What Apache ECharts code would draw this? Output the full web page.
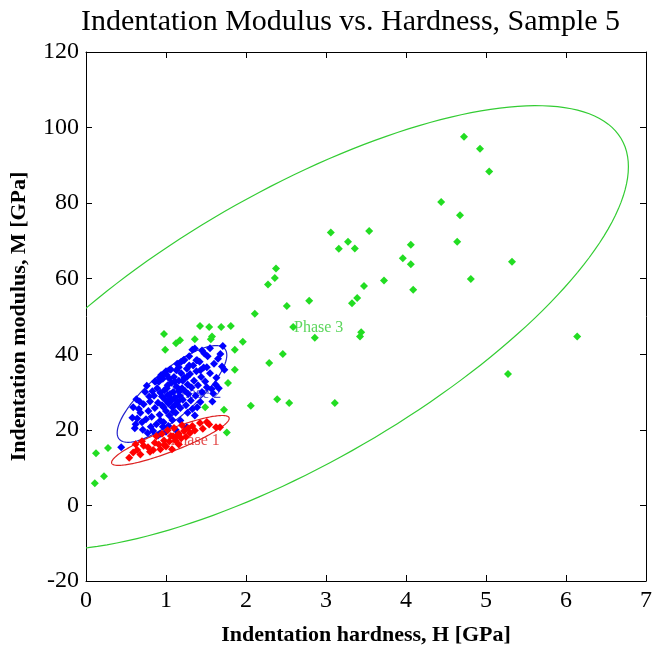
<!DOCTYPE html>
<html>
<head>
<meta charset="utf-8">
<script src="https://cdn.jsdelivr.net/npm/echarts@6/dist/echarts.min.js"></script>
<style>
  html, body { margin: 0; padding: 0; background: #ffffff; }
  #chart { width: 657px; height: 656px; }
</style>
</head>
<body>
<div id="chart"></div>
<script>
// tick values
var xTicks = [0, 1, 2, 3, 4, 5, 6, 7];
var yTicks = [-20, 0, 20, 40, 60, 80, 100, 120];

// phase 1 (red) points [H, M]
var phase1 = [
  [0.54, 12.6], [0.59, 14.0], [0.64, 14.7], [0.68, 13.5], [0.72, 15.8], [0.775, 15.4],
  [0.80, 14.2], [0.84, 14.7], [0.86, 16.6], [0.91, 16.1], [0.93, 14.9], [0.975, 17.2],
  [1.00, 15.6], [1.04, 16.9], [1.06, 18.4], [1.075, 14.9], [1.09, 18.3], [1.12, 17.1],
  [1.16, 19.0], [1.16, 16.1], [1.19, 17.8], [1.225, 19.7], [1.25, 18.2], [1.275, 20.4],
  [1.30, 19.2], [1.33, 21.0], [1.36, 19.8], [1.425, 21.8], [1.46, 20.3], [1.51, 22.1],
  [1.54, 21.4], [1.625, 20.7], [1.675, 20.7], [0.70, 17.0], [0.88, 18.3], [0.95, 19.0],
  [1.02, 19.9], [1.10, 20.5], [1.20, 21.2], [0.62, 16.2], [0.98, 16.0], [1.14, 18.6]
];

// phase 2 (blue) points [H, M]
var phase2 = [
  [0.44, 15.4], [0.58, 23.2], [0.61, 20.4], [0.71, 20.0], [0.84, 19.7], [0.93, 19.0],
  [0.59, 26.0], [0.63, 28.1], [0.76, 31.7], [0.91, 32.7], [1.16, 36.6], [1.39, 38.4],
  [1.51, 36.6], [1.36, 41.5], [1.33, 41.2], [1.71, 42.2], [1.68, 40.1], [1.73, 35.9],
  [1.63, 33.8], [1.51, 31.3], [1.59, 29.6], [1.43, 27.4], [1.26, 20.7], [1.18, 22.5],
  [0.93, 22.5], [1.38, 38.4], [1.55, 41.6],
  [0.68, 24.5], [0.72, 26.8], [0.75, 22.8], [0.78, 25.0], [0.80, 27.5], [0.82, 23.5],
  [0.85, 29.0], [0.86, 25.8], [0.88, 21.5], [0.89, 31.0], [0.90, 27.2], [0.92, 24.0],
  [0.93, 29.8], [0.95, 26.5], [0.96, 33.5], [0.97, 22.0], [0.98, 30.5], [0.99, 28.0],
  [1.00, 25.0], [1.01, 34.5], [1.02, 31.8], [1.03, 27.0], [1.04, 23.8], [1.05, 29.5],
  [1.06, 36.0], [1.07, 32.5], [1.08, 26.0], [1.09, 30.0], [1.10, 34.0], [1.11, 28.5],
  [1.12, 24.5], [1.13, 31.5], [1.14, 37.5], [1.15, 27.5], [1.16, 33.0], [1.17, 29.0],
  [1.18, 25.8], [1.19, 35.0], [1.20, 31.0], [1.21, 28.0], [1.22, 38.5], [1.23, 33.8],
  [1.24, 30.2], [1.25, 26.5], [1.26, 36.2], [1.27, 32.0], [1.28, 29.5], [1.30, 34.8],
  [1.31, 27.8], [1.32, 31.2], [1.34, 37.0], [1.35, 33.0], [1.37, 29.0], [1.38, 35.5],
  [1.40, 31.8], [1.42, 38.0], [1.44, 34.0], [1.45, 30.0], [1.47, 36.5], [1.49, 32.8],
  [1.52, 39.5], [1.55, 35.0], [1.57, 30.8], [1.60, 37.5], [1.62, 32.0], [1.65, 38.8],
  [0.83, 30.2], [0.87, 32.8], [0.94, 34.5], [1.00, 35.5], [1.05, 36.0], [0.79, 28.8],
  [0.74, 30.0], [0.70, 22.0], [0.66, 25.5], [0.64, 23.0], [0.62, 21.5], [0.67, 27.5],
  [0.81, 20.8], [0.77, 19.2], [0.96, 20.8], [1.03, 21.0], [1.08, 22.6], [1.12, 20.0],
  [1.00, 19.5], [0.90, 18.5], [0.98, 35.0], [1.02, 29.2], [1.07, 27.8], [1.13, 35.8],
  [1.19, 38.0], [1.23, 38.5], [1.29, 39.5], [1.18, 30.5], [1.14, 26.8], [1.09, 24.8],
  [1.27, 24.5], [1.33, 25.5], [1.39, 26.0], [1.36, 23.8], [0.95, 28.8], [1.04, 33.6],
  [0.86, 32.8], [0.92, 33.8], [1.48, 40.2], [1.45, 41.0], [1.58, 27.5], [1.66, 31.0],
  [1.70, 36.8], [1.01, 31.0], [1.06, 28.2], [1.11, 32.8], [1.16, 30.2], [1.21, 33.0],
  [1.26, 34.0], [1.11, 26.5], [0.97, 26.0], [1.29, 37.0], [1.43, 35.8]
];

// phase 3 (green) points [H, M]
var phase3 = [
  [4.44, 80.3], [4.675, 76.8], [4.64, 69.8], [5.325, 64.5], [4.81, 59.9], [3.06, 72.2],
  [3.54, 72.6], [3.275, 69.8], [3.16, 67.9], [3.36, 68.0], [4.06, 69.0], [3.96, 65.4],
  [4.06, 63.8], [4.09, 57.1], [3.725, 59.5], [3.475, 58.1], [3.39, 54.9], [3.325, 53.5],
  [2.375, 62.7], [2.36, 60.2], [2.275, 58.5], [2.79, 54.2], [2.51, 52.8], [2.11, 50.7],
  [2.59, 47.2], [2.86, 44.4], [3.44, 45.8], [3.425, 44.7], [1.96, 43.3], [1.86, 41.2],
  [2.46, 40.1], [2.29, 37.7], [1.86, 35.9], [1.775, 32.4], [2.39, 28.1], [2.54, 27.1],
  [3.11, 27.1], [2.06, 26.4], [1.725, 25.3], [5.275, 34.8], [1.425, 47.5], [1.54, 47.2],
  [1.69, 47.2], [1.81, 47.5], [1.575, 44.7], [1.56, 44.0], [4.725, 97.6], [4.925, 94.4],
  [5.04, 88.4], [6.14, 44.7], [0.975, 45.4], [1.125, 42.9], [1.175, 43.7], [1.36, 44.0],
  [0.99, 41.2], [1.49, 26.0], [1.76, 19.3], [0.125, 13.8], [0.275, 15.2], [0.225, 7.7],
  [0.11, 5.9]
];

// ellipse parameters: [centerH, centerM, halfWidthH, halfHeightM, phase]
var ellipse1 = [1.055, 17.2, 0.735, 6.6, 0.49];
var ellipse2 = [1.075, 29.5, 0.685, 12.8, 0.64];
var ellipse3 = [2.6, 47.0, 4.18, 58.8, 0.76];

// phase label anchors [H, M, text]
var phaseLabels = [
  [1.055, 17.2, 'Phase 1'],
  [1.075, 29.5, 'Phase 2'],
  [2.6, 47.0, 'Phase 3']
];

var red = '#ff0000';
var blue = '#0000ff';
var green = '#22dd22';
var serif = '"Liberation Serif", "Times New Roman", serif';

function ellipseSeries(params, color) {
  return {
    type: 'custom',
    clip: true,
    z: 1,
    silent: true,
    encode: { x: 0, y: 1 },
    data: [params],
    renderItem: function (p, api) {
      var cx = api.value(0), cy = api.value(1);
      var a = api.value(2), b = api.value(3), ph = api.value(4);
      var pts = [];
      for (var i = 0; i <= 180; i++) {
        var t = (i / 180) * Math.PI * 2;
        pts.push(api.coord([cx + a * Math.cos(t), cy + b * Math.cos(t - ph)]));
      }
      return {
        type: 'polyline',
        shape: { points: pts },
        style: { stroke: color, lineWidth: 1.2, fill: null }
      };
    }
  };
}

function labelSeries(item, color) {
  return {
    type: 'scatter',
    z: 1,
    silent: true,
    symbolSize: 0,
    data: [[item[0], item[1]]],
    label: {
      show: true,
      position: 'right',
      distance: 0,
      formatter: item[2],
      color: color,
      fontFamily: serif,
      fontSize: 16
    }
  };
}

function pointSeries(data, color) {
  return {
    type: 'scatter',
    z: 3,
    symbol: 'diamond',
    symbolSize: 8,
    itemStyle: { color: color, opacity: 1 },
    data: data
  };
}

var chart = echarts.init(document.getElementById('chart'));
var axisLine = { show: true, onZero: false, lineStyle: { color: '#000000', width: 1 } };
var tick = { show: true, inside: true, length: 6, lineStyle: { color: '#000000' } };
var tickLabel = { color: '#000000', fontFamily: serif, fontSize: 24 };

chart.setOption({
  animation: false,
  backgroundColor: '#ffffff',
  title: {
    text: 'Indentation Modulus vs. Hardness, Sample 5',
    left: 76,
    top: 2,
    textStyle: { fontFamily: serif, fontSize: 30, fontWeight: 'normal', color: '#000000' }
  },
  grid: { left: 86, right: 11, top: 52, bottom: 75 },
  xAxis: [
    {
      type: 'value', min: xTicks[0], max: xTicks[xTicks.length - 1], interval: 1,
      position: 'bottom',
      name: 'Indentation hardness, H [GPa]',
      nameLocation: 'middle', nameGap: 43,
      nameTextStyle: { fontFamily: serif, fontSize: 22, fontWeight: 'bold', color: '#000000' },
      axisLine: axisLine, axisTick: tick,
      axisLabel: Object.assign({ margin: 8 }, tickLabel),
      splitLine: { show: false }
    },
    {
      type: 'value', min: xTicks[0], max: xTicks[xTicks.length - 1], interval: 1,
      position: 'top',
      axisLine: axisLine, axisTick: tick, axisLabel: { show: false },
      splitLine: { show: false }
    }
  ],
  yAxis: [
    {
      type: 'value', min: yTicks[0], max: yTicks[yTicks.length - 1], interval: 20,
      position: 'left',
      name: 'Indentation modulus, M [GPa]',
      nameLocation: 'middle', nameGap: 56,
      nameTextStyle: { fontFamily: serif, fontSize: 22, fontWeight: 'bold', color: '#000000' },
      axisLine: axisLine, axisTick: tick,
      axisLabel: Object.assign({ margin: 7 }, tickLabel),
      splitLine: { show: false }
    },
    {
      type: 'value', min: yTicks[0], max: yTicks[yTicks.length - 1], interval: 20,
      position: 'right',
      axisLine: axisLine, axisTick: tick, axisLabel: { show: false },
      splitLine: { show: false }
    }
  ],
  series: [
    ellipseSeries(ellipse3, '#33cc33'),
    ellipseSeries(ellipse2, '#2222cc'),
    ellipseSeries(ellipse1, '#dd2222'),
    labelSeries(phaseLabels[0], '#dd2222'),
    labelSeries(phaseLabels[1], '#2222cc'),
    labelSeries(phaseLabels[2], '#33cc33'),
    pointSeries(phase3, green),
    pointSeries(phase2, blue),
    pointSeries(phase1, red)
  ]
});
</script>
</body>
</html>
